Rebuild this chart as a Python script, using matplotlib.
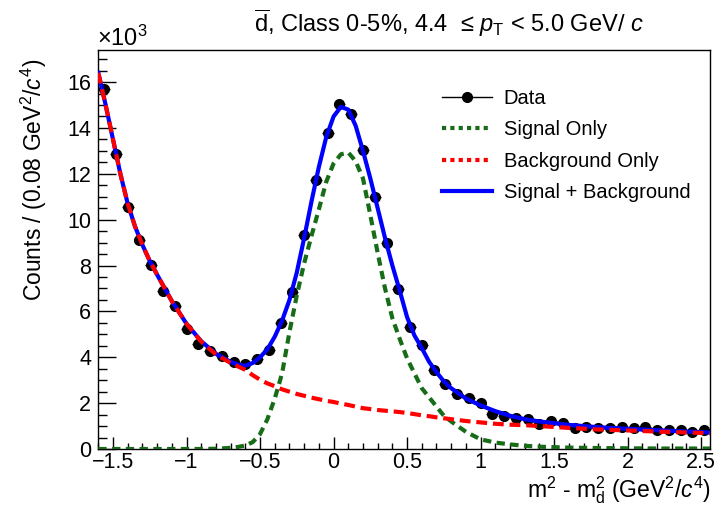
import numpy as np
import matplotlib
matplotlib.use("Agg")
import matplotlib.pyplot as plt
from matplotlib.lines import Line2D
from matplotlib.ticker import MultipleLocator, FuncFormatter

plt.rcParams['font.family'] = ['Liberation Sans', 'DejaVu Sans']
plt.rcParams['mathtext.fontset'] = 'custom'
plt.rcParams['mathtext.rm'] = 'Liberation Sans'
plt.rcParams['mathtext.it'] = 'Liberation Sans:italic'
plt.rcParams['mathtext.sf'] = 'Liberation Sans'

# histogram binning (GeV^2/c^4)
x_lo, x_hi = -1.6, 2.56
bin_w = 0.08
x_data = np.arange(x_lo + bin_w/2, x_hi, bin_w)

# counts per bin, in units of 10^3
counts = [15.71, 12.87, 10.57, 9.13, 8.04, 6.91, 6.25, 5.22, 4.58, 4.29,
          4.04, 3.81, 3.70, 3.93, 4.32, 5.48, 6.86, 9.34, 11.71, 13.77,
          15.04, 14.60, 13.05, 10.98, 8.99, 6.98, 5.31, 4.52, 3.45, 2.84,
          2.41, 2.22, 2.00, 1.53, 1.46, 1.36, 1.31, 1.10, 1.20, 1.13,
          0.91, 0.98, 0.92, 0.92, 0.98, 0.92, 0.98, 0.81, 0.84, 0.84,
          0.76, 0.81]
count_err = 0.12

# fit curves sampled along x
x_fit = [-1.6, -1.55, -1.5, -1.45, -1.4, -1.35, -1.3, -1.25, -1.2, -1.1,
         -1.0, -0.9, -0.8, -0.7, -0.65, -0.6, -0.55, -0.5, -0.45, -0.4,
         -0.35, -0.3, -0.25, -0.2, -0.15, -0.1, -0.05, 0.0, 0.05, 0.1,
         0.15, 0.2, 0.25, 0.3, 0.35, 0.4, 0.45, 0.5, 0.55, 0.6,
         0.65, 0.7, 0.75, 0.8, 0.9, 1.0, 1.1, 1.2, 1.3, 1.4,
         1.6, 1.8, 2.0, 2.2, 2.4, 2.56]
bkg = [16.4, 15.0, 13.5, 12.0, 10.7, 9.7, 8.9, 8.2, 7.6, 6.45,
       5.46, 4.68, 4.12, 3.75, 3.6, 3.45, 3.22, 3.02, 2.86, 2.74,
       2.6, 2.5, 2.4, 2.32, 2.24, 2.17, 2.1, 2.05, 1.98, 1.92,
       1.85, 1.78, 1.74, 1.7, 1.67, 1.64, 1.61, 1.57, 1.52, 1.47,
       1.43, 1.38, 1.34, 1.3, 1.22, 1.16, 1.1, 1.06, 1.04, 1.0,
       0.92, 0.85, 0.81, 0.76, 0.72, 0.69]
sig = [0.0, 0.0, 0.0, 0.0, 0.0, 0.0, 0.0, 0.0, 0.0, 0.0,
       0.0, 0.0, 0.01, 0.05, 0.09, 0.15, 0.3, 0.65, 1.3, 2.2,
       3.3, 5.1, 6.7, 8.1, 9.3, 10.45, 11.65, 12.45, 12.85, 12.93,
       12.55, 11.8, 10.2, 8.55, 7.0, 5.7, 4.8, 3.95, 3.3, 2.65,
       2.25, 1.85, 1.45, 1.2, 0.75, 0.42, 0.28, 0.2, 0.14, 0.1,
       0.06, 0.04, 0.03, 0.02, 0.02, 0.02]
total = [16.4, 15.0, 13.5, 12.0, 10.7, 9.7, 8.9, 8.2, 7.6, 6.45,
         5.46, 4.7, 4.15, 3.8, 3.68, 3.63, 3.75, 4.0, 4.35, 4.9,
         5.6, 6.5, 7.7, 9.2, 10.8, 12.3, 13.6, 14.5, 14.92, 14.8,
         14.1, 13.0, 11.8, 10.5, 9.2, 8.0, 6.9, 5.75, 4.95, 4.4,
         3.8, 3.35, 2.95, 2.65, 2.2, 1.9, 1.65, 1.45, 1.3, 1.2,
         1.05, 0.95, 0.88, 0.82, 0.76, 0.72]

green = '#176c17'

fig = plt.figure(figsize=(7.16, 5.05), dpi=100)
ax = fig.add_axes([0.1373, 0.1109, 0.8543, 0.7901])

ax.errorbar(x_data, counts, xerr=bin_w/2, yerr=count_err, fmt='o', color='black',
            ms=7, elinewidth=1, capsize=0, zorder=2)
ax.plot(x_fit, sig, color=green, lw=3, ls=(0, (2.0, 1.3)), zorder=3)
ax.plot(x_fit, total, color='#0000ff', lw=3, zorder=4)
ax.plot(x_fit, bkg, color='#ff0000', lw=3, ls=(0, (2.6, 1.4)), zorder=5)

ax.set_xlim(x_lo, x_hi)
ax.set_ylim(0, 17.4)

ax.xaxis.set_major_locator(MultipleLocator(0.5))
ax.xaxis.set_minor_locator(MultipleLocator(0.1))
ax.yaxis.set_major_locator(MultipleLocator(2))
ax.yaxis.set_minor_locator(MultipleLocator(0.5))
fmt = FuncFormatter(lambda v, p: ('%g' % v).replace('-', '\u2212'))
ax.xaxis.set_major_formatter(fmt)
ax.yaxis.set_major_formatter(fmt)
ax.tick_params(which='both', direction='in', top=False, right=False,
               labelsize=15.5, width=1)
ax.tick_params(axis='x', which='major', length=8.6, pad=2)
ax.tick_params(axis='x', which='minor', length=4.3)
ax.tick_params(axis='y', which='major', length=13, pad=5)
ax.tick_params(axis='y', which='minor', length=6.5)
for s in ax.spines.values():
    s.set_linewidth(1)

fig.text(0.627, 0.9366,
         r'$\overline{\mathrm{d}}$, Class 0-5%, 4.4  ≤ $p_{\mathrm{T}}$ < 5.0 GeV/ $c$',
         ha='center', va='baseline', fontsize=17)
fig.text(97/716, 1 - 46/505, r'$\times$10$^{3}$', ha='left', va='baseline', fontsize=17)
fig.text(34/716, 1 - 180/505, r'Counts / (0.08 GeV$^{2}$/$c^{4}$)',
         rotation=90, ha='center', va='center', fontsize=16.5)
fig.text(711/716, 8/505, r'm$^{2}$ - m$_{\mathrm{d}}^{2}$ (GeV$^{2}$/$c^{4}$)',
         ha='right', va='baseline', fontsize=16.5)

handles = [
    Line2D([], [], color='black', marker='o', ms=7, lw=1),
    Line2D([], [], color=green, lw=3, ls=(0, (1, 1))),
    Line2D([], [], color='#ff0000', lw=3, ls=(0, (1, 1))),
    Line2D([], [], color='#0000ff', lw=3),
]
labels = ['Data', 'Signal Only', 'Background Only', 'Signal + Background']
fig.legend(handles, labels, loc='upper left', bbox_to_anchor=(442/716, 1 - 89/505),
           frameon=False, fontsize=14.5, handlelength=2.5, handletextpad=0.57,
           labelspacing=0.62, borderpad=0, borderaxespad=0)

fig.savefig('out.png', dpi=100)
